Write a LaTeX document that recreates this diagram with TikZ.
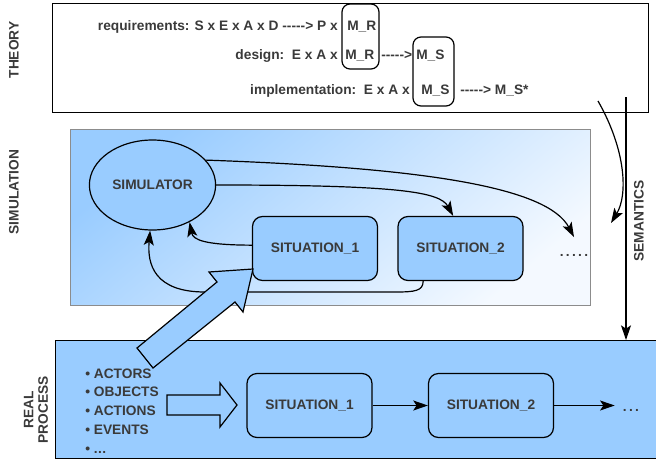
\documentclass[tikz,border=0pt]{standalone}
\usepackage{fontspec}
\setmainfont{Liberation Sans}
\usetikzlibrary{arrows.meta,positioning,shapes.geometric}
\definecolor{lightblue}{HTML}{99CCFF}
\definecolor{paleblue}{HTML}{F4F9FF}
\definecolor{labelgray}{HTML}{3A3A3A}
\newcommand{\darr}{-{}-{}-{}-{}->}

\begin{document}
\begin{tikzpicture}[
    x=0.75pt,y=-0.75pt,
    >={Stealth[length=11pt,width=7.5pt,inset=2.5pt]},
    every node/.style={font=\fontsize{10.3}{12}\selectfont\bfseries,text=labelgray},
    sidelabel/.style={rotate=90,align=center},
    txt/.style={inner sep=0pt},
    frame/.style={draw,line width=0.9pt,anchor=north west},
    mbox/.style={draw,rounded corners=6pt,line width=0.9pt},
    situation/.style={draw,fill=lightblue,rounded corners=7.5pt,line width=0.9pt,
                      minimum width=93.75pt,minimum height=48pt},
    link/.style={->,line width=0.9pt}
  ]
  \useasboundingbox (0,0) rectangle (656,464);

  % theory
  \node[frame,minimum width=447pt,minimum height=81.75pt] (theory) at (52,3) {};
  \node[sidelabel] (theorylabel) at (14,50) {THEORY};
  \draw[mbox] (342,4) rectangle (379,69);
  \draw[mbox] (413,37) rectangle (454,106);
  \node[txt,anchor=base west] (mr1) at (347,30) {M\_R};
  \node[txt,anchor=base east] (req) at (338,30) {requirements: S x E x A x D \darr{} P x};
  \node[txt,anchor=base west] (mr2) at (345,59) {M\_R};
  \node[txt,anchor=base east] (design) at (338,59) {design:\ \ E x A x};
  \node[txt,anchor=base west] (darr2) at (381,59) {\darr};
  \node[txt,anchor=base west] (ms1) at (416,59) {M\_S};
  \node[txt,anchor=base east] (impl) at (410,94) {implementation:\ \ E x A x};
  \node[txt,anchor=base west] (ms2) at (421,94) {M\_S};
  \node[txt,anchor=base west] (msstar) at (460,94) {\darr{} M\_S*};

  % simulation
  \node[frame,draw=black!45,line width=0.75pt,minimum width=390pt,minimum height=132pt,
        top color=lightblue,bottom color=paleblue,shading angle=40] (simbox) at (70,129) {};
  \node[sidelabel] (simlabel) at (14,192) {SIMULATION};
  \node[ellipse,draw,fill=lightblue,line width=0.9pt,
        minimum width=93.75pt,minimum height=67.5pt] (simulator) at (152.5,185) {SIMULATOR};
  \node[situation] (sit1s) at (315,248.5) {SITUATION\_1};
  \node[situation] (sit2s) at (460.5,248.5) {SITUATION\_2};
  \node[txt,anchor=base] (dotss) at (574,256) {.\,.\,.\,.\,.};
  \draw[link] (simulator.25) .. controls (430,168) and (548,188) .. ([yshift=12.5pt]dotss.north);
  \draw[link] (simulator.east) .. controls (400,185) and (440,192) .. ([xshift=-5.5pt]sit2s.north);
  \draw[link] ([yshift=2.5pt]sit1s.west) .. controls (205,245) and (193,240) .. (simulator.-45);
  \draw[link] ([xshift=-28pt]sit2s.south) .. controls (423,291) and (415,292) .. (395,292)
    -- (205,292) .. controls (155,292) and (147,265) .. (simulator.-93);

  % semantics
  \coordinate (thfrom) at (598,101);
  \coordinate (thto) at (611,223);
  \coordinate (semfrom) at (626,97);
  \draw[link] (thfrom) .. controls (626,150) and (628,195) .. (thto);

  % real process
  \node[frame,fill=lightblue,minimum width=453.75pt,minimum height=88.5pt] (real) at (55,340) {};
  \draw[link] (semfrom) -- (semfrom |- real.north);
  \node[rotate=90] (semlabel) at (639,221) {SEMANTICS};
  \node[sidelabel,font=\fontsize{10.3}{11}\selectfont\bfseries] (reallabel) at (36,410) {REAL\\PROCESS};
  \foreach \entry [count=\i] in {ACTORS,OBJECTS,ACTIONS,EVENTS}
    \node[txt,anchor=base west] (item\i) at (85,{378+18.75*(\i-1)}) {\textbullet\ \entry};
  \node[txt,anchor=base west] (item5) at (85,453) {\textbullet\ .\kern0.3pt.\kern0.3pt.};
  \draw[fill=lightblue,line width=0.9pt] (167,395) -- (220,395) -- (220,383) -- (237,405)
    -- (220,427) -- (220,415) -- (167,415) -- cycle;
  \node[situation] (sit1r) at (309.5,405.5) {SITUATION\_1};
  \node[situation] (sit2r) at (491,405.5) {SITUATION\_2};
  \node[txt,anchor=base] (dotsr) at (631,411) {.\,.\,.};
  \coordinate (dotsin) at ([xshift=-6pt]dotsr.west);
  \draw[link] (sit1r) -- (sit2r);
  \draw[link] (sit2r.east) -- (dotsin |- sit2r.east);

  % real process feeds the simulation
  \draw[fill=lightblue,line width=0.9pt] (137,348) -- (217,282) -- (209,272) -- (253,269)
    -- (243,312) -- (235,302) -- (153,368) -- cycle;
\end{tikzpicture}
\end{document}
